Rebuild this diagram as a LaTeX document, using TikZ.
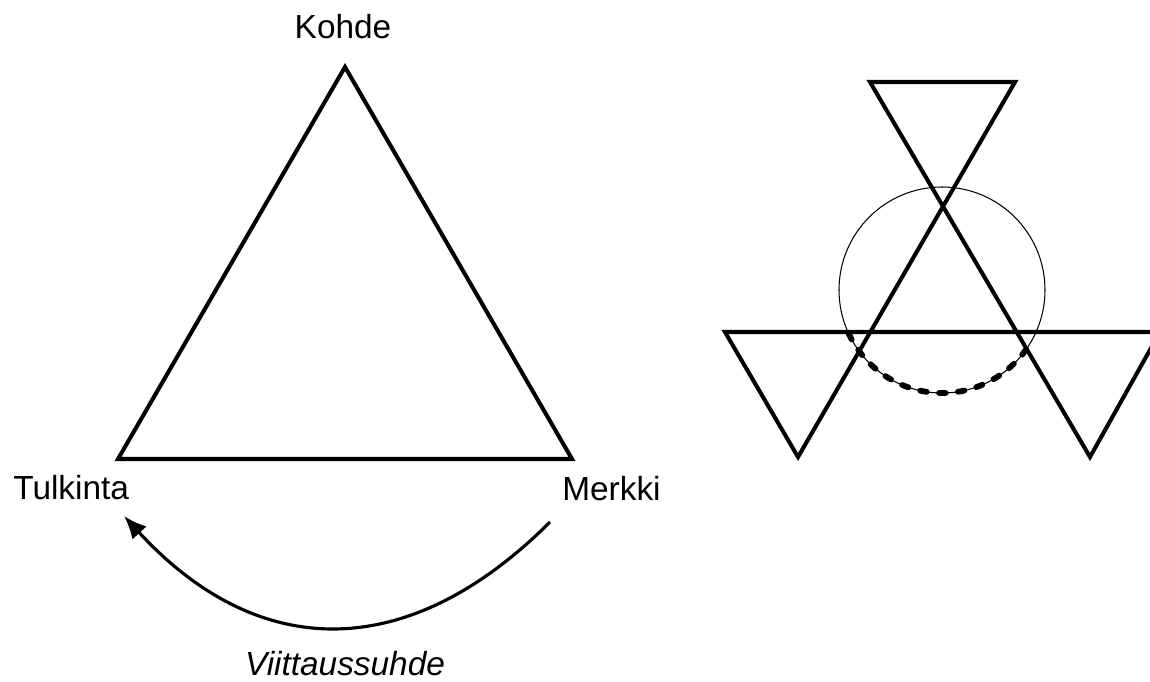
\documentclass[tikz,border=0pt]{standalone}
\usepackage{fontspec}
\setmainfont{Liberation Sans}
\usetikzlibrary{arrows.meta}

\begin{document}
\begin{tikzpicture}[x=0.02cm, y=-0.02cm, >={Latex[length=13pt,width=11pt]},
    side/.style={line width=2.3pt},
    lbl/.style={inner sep=0pt, anchor=base, font=\fontsize{19}{22}\selectfont}]
        % --- SETTINGS ---
        \def\Cx{942}       % circle centre x
        \def\Cy{290}       % circle centre y
        \def\R{103}        % circle radius
        \useasboundingbox (0,0) rectangle (1150,682);

        % --- LEFT: SIGN TRIANGLE ---
        \coordinate (apex) at (345,67);
        \coordinate (bl) at (118,459);
        \coordinate (br) at (572,459);
        \draw[side] (apex) -- (br) -- (bl) -- cycle;

        \node[lbl] (kohde) at (343,39) {Kohde};
        \node[lbl, anchor=base west] (tulkinta) at (13,499) {Tulkinta};
        \node[lbl, anchor=base west] (merkki) at (562,500) {Merkki};
        \node[lbl, font=\fontsize{19}{22}\selectfont\itshape] (viittaus) at (345,675) {Viittaussuhde};

        % --- ARROW: Merkki -> Tulkinta ---
        \coordinate (from) at (550,522);
        \coordinate (to) at (124,516);
        \draw[->, line width=1.8pt] (from) .. controls (409,663) and (259,663) .. (to);

        % --- RIGHT: THREE TRIANGLES AND CIRCLE ---
        \coordinate (tl) at (870,82);
        \coordinate (tr) at (1015,82);
        \coordinate (ml) at (725,332);
        \coordinate (mr) at (1160,332);
        \coordinate (dl) at (798,457);
        \coordinate (dr) at (1090,457);
        \draw[side] (tl) -- (tr) -- (dl) -- (ml) -- (mr) -- (dr) -- cycle;

        \draw[line width=0.6pt] (\Cx,\Cy) circle[radius=\R];
        % thick dashed lower arc
        \draw[line width=3.3pt, line cap=round, dash pattern=on 3.8pt off 7pt]
            ({\Cx+\R*cos(205)},{\Cy-\R*sin(205)}) arc[start angle=-205, end angle=-330, radius=\R];
    \end{tikzpicture}
\end{document}
